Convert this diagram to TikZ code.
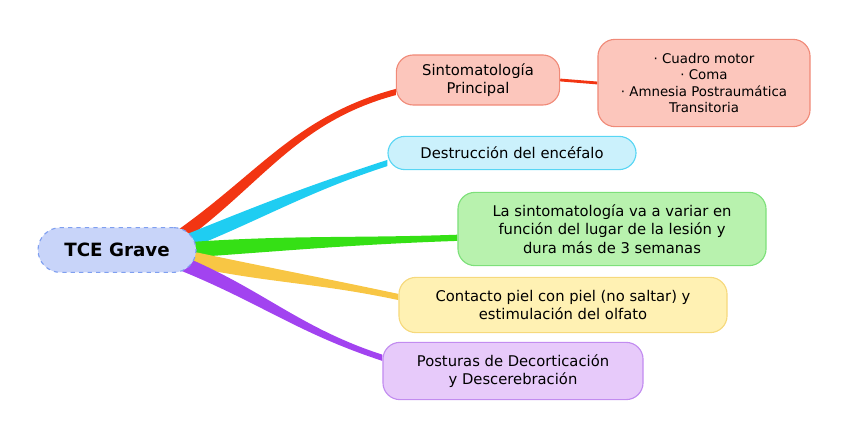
\documentclass[tikz,border=0pt]{standalone}
\usepackage{fontspec}
\setmainfont{DejaVu Sans}
\usepackage{xcolor}
\usetikzlibrary{positioning,backgrounds,calc}
\definecolor{rootfill}{HTML}{C8D4F9}
\definecolor{rootdraw}{HTML}{7F9FF0}
\definecolor{redfill}{HTML}{FCC6BC}
\definecolor{reddraw}{HTML}{F08A78}
\definecolor{redline}{HTML}{F23512}
\definecolor{cyanfill}{HTML}{CBF1FC}
\definecolor{cyandraw}{HTML}{58D6F4}
\definecolor{cyanline}{HTML}{1FCDF2}
\definecolor{greenfill}{HTML}{B8F2AE}
\definecolor{greendraw}{HTML}{7DE07A}
\definecolor{greenline}{HTML}{35E015}
\definecolor{yellowfill}{HTML}{FFF1B3}
\definecolor{yellowdraw}{HTML}{F6D97C}
\definecolor{yellowline}{HTML}{F8C644}
\definecolor{purplefill}{HTML}{E7CAFA}
\definecolor{purpledraw}{HTML}{C28CF0}
\definecolor{purpleline}{HTML}{A243F0}

% tapered branch: colour, start, end, out angle, in angle
\newcommand{\mapbranch}[5]{%
  \fill[#1] ($(#2)+(0,5.5pt)$) to[out=#4,in=#5] ($(#3)+(0,2.2pt)$)
    -- ($(#3)+(0,-2.2pt)$) to[out=#5,in=#4] ($(#2)+(0,-5.5pt)$) -- cycle;}

\begin{document}
\begin{tikzpicture}[
  x=0.025cm,y=-0.025cm,
  every node/.style={font=\fontsize{10.5}{13}\selectfont},
  topic/.style={draw,rounded corners=12pt,align=center,inner sep=3pt,
                line width=0.8pt},
  link/.style={line width=2pt}
]
\useasboundingbox (0,0) rectangle (848,438);

% central topic
\node[topic,fill=rootfill,draw=rootdraw,dashed,rounded corners=16pt,
      minimum width=3.95cm,minimum height=1.12cm,
      font=\fontsize{13}{15}\selectfont\bfseries] (root) at (117,250) {TCE Grave};

% Branch 1 — Sintomatologia
\node[topic,fill=redfill,draw=reddraw,minimum width=4.08cm,minimum height=1.25cm] (sint) at (478,80)
  {Sintomatología\\Principal};
\node[topic,fill=redfill,draw=reddraw,minimum width=5.3cm,minimum height=2.18cm,
      font=\fontsize{9.5}{11.5}\selectfont] (sintdet) at (704,83)
  {· Cuadro motor\\· Coma\\· Amnesia Postraumática\\Transitoria};

% Branch 2 — Destruccion
\node[topic,fill=cyanfill,draw=cyandraw,minimum width=6.2cm,minimum height=0.83cm] (destr) at (512,153)
  {Destrucción del encéfalo};

% Branch 3 — Variacion
\node[topic,fill=greenfill,draw=greendraw,minimum width=7.7cm,minimum height=1.83cm] (vari) at (612,229)
  {La sintomatología va a variar en\\función del lugar de la lesión y\\dura más de 3 semanas};

% Branch 4 — Contacto
\node[topic,fill=yellowfill,draw=yellowdraw,minimum width=8.2cm,minimum height=1.38cm] (cont) at (563,305)
  {Contacto piel con piel (no saltar) y\\estimulación del olfato};

% Branch 5 — Posturas
\node[topic,fill=purplefill,draw=purpledraw,minimum width=6.5cm,minimum height=1.43cm] (post) at (513,371)
  {Posturas de Decorticación\\y Descerebración};

% branches behind the nodes
\begin{scope}[on background layer]
\coordinate (r1) at ([xshift=-0.55cm,yshift=0.25cm]root.east);
\coordinate (r2) at ([xshift=-0.25cm,yshift=0.2cm]root.east);
\coordinate (r3) at ([xshift=-0.25cm]root.east);
\coordinate (r4) at ([xshift=-0.25cm,yshift=-0.2cm]root.east);
\coordinate (r5) at ([xshift=-0.45cm,yshift=-0.3cm]root.east);
\mapbranch{redline}{r1}{[yshift=-0.3cm]sint.west}{35}{195}
\mapbranch{cyanline}{r2}{[yshift=-0.25cm]destr.west}{22}{198}
\mapbranch{greenline}{r3}{[yshift=-0.22cm]vari.west}{4}{182}
\mapbranch{yellowline}{r4}{[yshift=0.2cm]cont.west}{-12}{168}
\mapbranch{purpleline}{r5}{[yshift=0.33cm]post.west}{-22}{162}
\draw[link,redline] (sint.east) -- (sintdet.west);
\end{scope}

\end{tikzpicture}
\end{document}
